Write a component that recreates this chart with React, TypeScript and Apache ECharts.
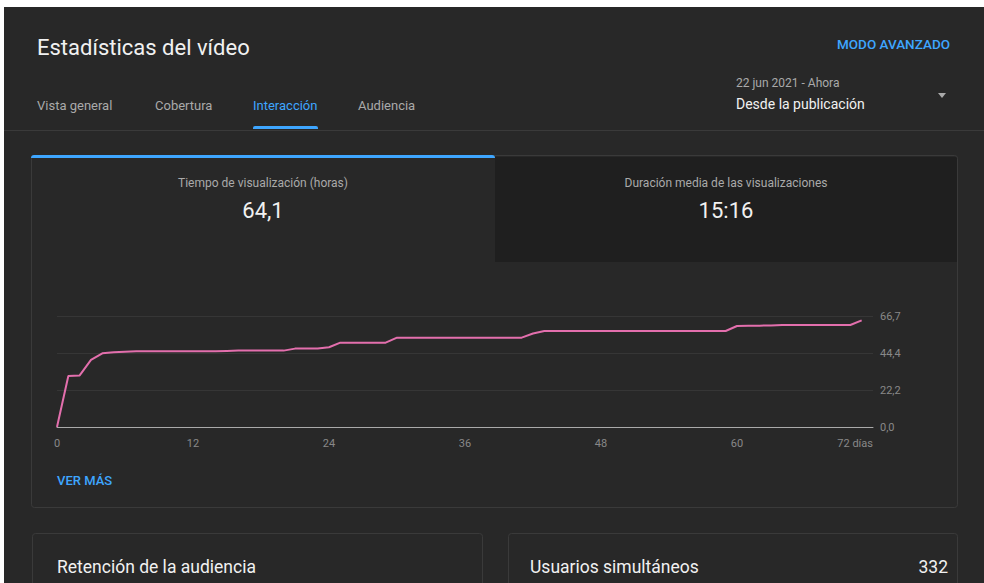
import React, { useEffect, useRef } from "react";
import * as echarts from "echarts";

// ---- data ----
const days: number[] = [
  0, 1, 2, 3, 4, 5, 6, 7, 8, 9, 10, 11, 12, 13, 14, 15, 16, 17, 18, 19, 20, 21, 22, 23,
  24, 25, 26, 27, 28, 29, 30, 31, 32, 33, 34, 35, 36, 37, 38, 39, 40, 41, 42, 43, 44, 45, 46, 47,
  48, 49, 50, 51, 52, 53, 54, 55, 56, 57, 58, 59, 60, 61, 62, 63, 64, 65, 66, 67, 68, 69, 70, 71,
];
const watchHours: number[] = [
  0, 30.6, 31.0, 40.3, 44.3, 44.9, 45.2, 45.5, 45.5, 45.5, 45.5, 45.5, 45.5, 45.5, 45.5, 45.7,
  45.9, 45.9, 45.9, 45.9, 45.9, 47.1, 47.1, 47.2, 47.9, 50.7, 50.7, 50.7, 50.7, 50.7, 53.7, 53.7,
  53.7, 53.7, 53.7, 53.7, 53.7, 53.7, 53.7, 53.7, 53.7, 53.7, 56.2, 57.7, 57.7, 57.7, 57.7, 57.7,
  57.7, 57.7, 57.7, 57.7, 57.7, 57.7, 57.7, 57.7, 57.7, 57.7, 57.7, 57.7, 60.7, 60.8, 60.9, 61.0,
  61.3, 61.3, 61.3, 61.3, 61.3, 61.3, 61.3, 64.1,
];
const yTickLabels: string[] = ["0,0", "22,2", "44,4", "66,7"];
const xMax = 72;
const xInterval = 12;
const yMax = 66.7;
const tabs: string[] = ["Vista general", "Cobertura", "Interacción", "Audiencia"];

export default function App() {
  const ref = useRef<HTMLDivElement>(null);
  useEffect(() => {
    if (!ref.current) return;
    const chart = echarts.init(ref.current, null, { renderer: "svg" });
    const font = "Roboto, 'Noto Sans', sans-serif";
    const tabX = [37, 155, 253, 358];
    const graphic: any[] = [
      { type: "rect", shape: { x: 4, y: 7, width: 980, height: 576 }, style: { fill: "#282828" }, z: -10 },
      { type: "text", x: 37, y: 47, style: { text: "Estadísticas del vídeo", fill: "#f1f1f1", font: `400 22px ${font}`, textVerticalAlign: "middle" } },
      { type: "text", x: 950, y: 44, style: { text: "MODO AVANZADO", fill: "#3ea6ff", font: `500 13.5px ${font}`, textAlign: "right", textVerticalAlign: "middle" } },
      { type: "text", x: 736, y: 83, style: { text: "22 jun 2021 - Ahora", fill: "#aaaaaa", font: `400 12px ${font}`, textVerticalAlign: "middle" } },
      { type: "text", x: 736, y: 104, style: { text: "Desde la publicación", fill: "#f1f1f1", font: `400 14px ${font}`, textVerticalAlign: "middle" } },
      { type: "polygon", shape: { points: [[938, 93], [946, 93], [942, 98]] }, style: { fill: "#aaaaaa" } },
      { type: "line", shape: { x1: 4, y1: 130.5, x2: 984, y2: 130.5 }, style: { stroke: "#3a3a3a", lineWidth: 1 } },
      { type: "rect", shape: { x: 253, y: 126, width: 65, height: 3, r: [2, 2, 0, 0] }, style: { fill: "#3ea6ff" } },
      // main card
      { type: "rect", shape: { x: 495, y: 157, width: 462, height: 105 }, style: { fill: "#1f1f1f" } },
      { type: "rect", shape: { x: 31.5, y: 155.5, width: 926, height: 352, r: 3 }, style: { fill: "none", stroke: "#3a3a3a", lineWidth: 1 } },
      { type: "rect", shape: { x: 31, y: 155, width: 464, height: 3, r: [3, 3, 0, 0] }, style: { fill: "#3ea6ff" } },
      { type: "text", x: 263, y: 183, style: { text: "Tiempo de visualización (horas)", fill: "#aaaaaa", font: `400 12px ${font}`, textAlign: "center", textVerticalAlign: "middle" } },
      { type: "text", x: 263, y: 210, style: { text: "64,1", fill: "#f1f1f1", font: `400 22px ${font}`, textAlign: "center", textVerticalAlign: "middle" } },
      { type: "text", x: 726, y: 183, style: { text: "Duración media de las visualizaciones", fill: "#aaaaaa", font: `400 12px ${font}`, textAlign: "center", textVerticalAlign: "middle" } },
      { type: "text", x: 726, y: 210, style: { text: "15:16", fill: "#f1f1f1", font: `400 22px ${font}`, textAlign: "center", textVerticalAlign: "middle" } },
      { type: "text", x: 57, y: 480, style: { text: "VER MÁS", fill: "#3ea6ff", font: `500 13px ${font}`, textVerticalAlign: "middle" } },
      // bottom cards
      { type: "rect", shape: { x: 32.5, y: 533.5, width: 450, height: 80, r: 3 }, style: { fill: "none", stroke: "#3a3a3a", lineWidth: 1 } },
      { type: "rect", shape: { x: 508.5, y: 533.5, width: 449, height: 80, r: 3 }, style: { fill: "none", stroke: "#3a3a3a", lineWidth: 1 } },
      { type: "text", x: 57, y: 567, style: { text: "Retención de la audiencia", fill: "#f1f1f1", font: `400 17.5px ${font}`, textVerticalAlign: "middle" } },
      { type: "text", x: 530, y: 567, style: { text: "Usuarios simultáneos", fill: "#f1f1f1", font: `400 17.5px ${font}`, textVerticalAlign: "middle" } },
      { type: "text", x: 948, y: 567, style: { text: "332", fill: "#f1f1f1", font: `400 17.5px ${font}`, textAlign: "right", textVerticalAlign: "middle" } },
    ];
    tabs.forEach((t, i) => {
      graphic.push({
        type: "text", x: tabX[i], y: 105,
        style: { text: t, fill: i === 2 ? "#3ea6ff" : "#aaaaaa", font: `400 13px ${font}`, textVerticalAlign: "middle" },
      });
    });

    chart.setOption({
      animation: false,
      backgroundColor: "#ffffff",
      textStyle: { fontFamily: font },
      graphic: { elements: graphic },
      grid: { left: 57, right: 111, top: 316, bottom: 156, containLabel: false },
      xAxis: {
        type: "value", min: 0, max: xMax, interval: xInterval,
        axisLine: { show: true, lineStyle: { color: "#aaaaaa", width: 1 } },
        axisTick: { show: false },
        splitLine: { show: false },
        axisLabel: {
          color: "#888888", fontSize: 11, margin: 11,
          alignMaxLabel: "right",
          formatter: (v: number) => (v === xMax ? `${v} días` : `${v}`),
        },
      },
      yAxis: {
        type: "value", position: "right", min: 0, max: yMax, interval: yMax / 3,
        axisLine: { show: false }, axisTick: { show: false },
        splitLine: { lineStyle: { color: "#363636", width: 1 } },
        axisLabel: {
          color: "#888888", fontSize: 11, margin: 7,
          formatter: (_v: number, i: number) => yTickLabels[i] ?? "",
        },
      },
      series: [{
        type: "line",
        data: days.map((d, i) => [d, watchHours[i]]),
        showSymbol: false,
        lineStyle: { color: "#e36fad", width: 2 },
        itemStyle: { color: "#e36fad" },
      }],
    });
    return () => chart.dispose();
  }, []);
  return <div ref={ref} style={{ position: "fixed", left: 0, top: 0, width: 984, height: 583 }} />;
}
